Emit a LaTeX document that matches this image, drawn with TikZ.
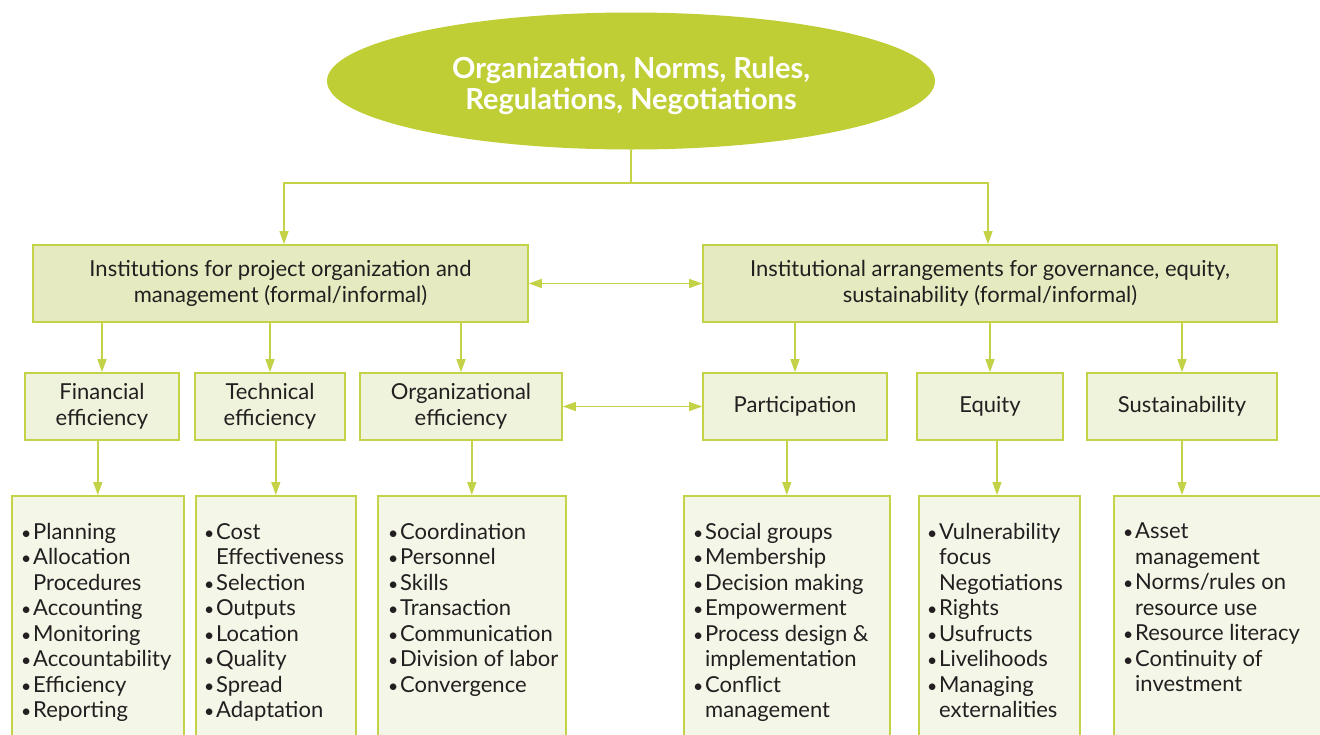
\documentclass[tikz,border=0pt]{standalone}
\usepackage{fontspec}
\setmainfont{Lato}
\usetikzlibrary{arrows.meta,shapes.geometric}

\definecolor{topFill}{RGB}{191,206,52}
\definecolor{limeLine}{RGB}{196,210,72}
\definecolor{headFill}{RGB}{230,234,192}
\definecolor{midFill}{RGB}{240,243,220}
\definecolor{listFill}{RGB}{244,246,231}
\definecolor{txt}{RGB}{35,31,32}

\newcommand{\itm}{\makebox[11pt][l]{\hspace{-1pt}\scalebox{0.8}{\textbullet}}}
\newcommand{\cnt}{\hspace*{11pt}}

\begin{document}
\begin{tikzpicture}[x=1pt,y=1pt,yscale=-1,xscale=1,
  headbox/.style={draw=limeLine,line width=1.6pt,fill=headFill,text=txt,align=center,
    minimum height=77pt,inner sep=0pt,font=\fontsize{22}{26}\selectfont},
  midbox/.style={draw=limeLine,line width=1.6pt,fill=midFill,text=txt,align=center,
    minimum height=67pt,inner sep=0pt,font=\fontsize{22}{25.5}\selectfont},
  listbox/.style={draw=limeLine,line width=1.6pt,fill=listFill,minimum height=262pt,
    anchor=north west,inner sep=0pt},
  listtext/.style={anchor=north west,align=left,inner sep=0pt,text=txt,
    font=\fontsize{22}{25.5}\selectfont},
  link/.style={draw=limeLine,line width=1.4pt},
  arr/.style={link,-{Triangle[length=13pt,width=9pt]}},
  dbl/.style={link,{Triangle[length=13pt,width=9pt]}-{Triangle[length=13pt,width=9pt]}}]
\useasboundingbox (0,0) rectangle (1320,734);
\clip (0,0) rectangle (1320,734);

%Shape: Ellipse
\node[ellipse,fill=topFill,minimum width=608pt,minimum height=137pt,inner sep=0pt] (top) at (631,81) {};
% Text Node
\node[text=white,align=center,inner sep=0pt,font=\fontsize{29}{31}\selectfont\bfseries] (toptext) at (631,86)
  {Organization, Norms, Rules,\\Regulations, Negotiations};

%Shape: Rectangle
\node[headbox,minimum width=495pt] (inst) at (280.5,283.5)
  {Institutions for project organization and\\management (formal/informal)};
%Shape: Rectangle
\node[headbox,minimum width=574pt] (gov) at (990,283.5)
  {Institutional arrangements for governance, equity,\\sustainability (formal/informal)};

%Shape: Rectangle
\node[midbox,minimum width=154pt] (finmid) at (102,406.5) {Financial\\efficiency};
\node[midbox,minimum width=150pt] (techmid) at (270,406.5) {Technical\\efficiency};
\node[midbox,minimum width=202pt] (orgmid) at (461,406.5) {Organizational\\efficiency};
\node[midbox,minimum width=184pt] (partmid) at (795,406.5) {Participation};
\node[midbox,minimum width=146pt] (eqmid) at (990,406.5) {Equity};
\node[midbox,minimum width=190pt] (sustmid) at (1182,406.5) {Sustainability};

%Shape: Rectangle
\node[listbox,minimum width=172pt] (finlist) at (11,495) {};
\node[listbox,minimum width=160pt] (techlist) at (195,495) {};
\node[listbox,minimum width=188pt] (orglist) at (377,495) {};
\node[listbox,minimum width=206pt] (partlist) at (683,495) {};
\node[listbox,minimum width=161pt] (eqlist) at (918,495) {};
\node[listbox,minimum width=230pt] (sustlist) at (1113,495) {};

% Text Node
\node[listtext] (fintext) at (22,523) {\itm Planning\\\itm Allocation\\\cnt Procedures\\\itm Accounting\\
  \itm Monitoring\\\itm Accountability\\\itm Efficiency\\\itm Reporting};
% Text Node
\node[listtext] (techtext) at (205,523) {\itm Cost\\\cnt Effectiveness\\\itm Selection\\\itm Outputs\\
  \itm Location\\\itm Quality\\\itm Spread\\\itm Adaptation};
% Text Node
\node[listtext] (orgtext) at (389,523) {\itm Coordination\\\itm Personnel\\\itm Skills\\\itm Transaction\\
  \itm Communication\\\itm Division of labor\\\itm Convergence};
% Text Node
\node[listtext] (parttext) at (694,523) {\itm Social groups\\\itm Membership\\\itm Decision making\\
  \itm Empowerment\\\itm Process design \&\\\cnt implementation\\\itm Conflict\\\cnt management};
% Text Node
\node[listtext] (eqtext) at (928,523) {\itm Vulnerability\\\cnt focus\\\cnt Negotiations\\\itm Rights\\
  \itm Usufructs\\\itm Livelihoods\\\itm Managing\\\cnt externalities};
% Text Node
\node[listtext] (susttext) at (1124,523) {\itm Asset\\\cnt management\\\itm Norms/rules on\\
  \cnt resource use\\\itm Resource literacy\\\itm Continuity of\\\cnt investment};

%Straight Lines
\draw[link] (top.south) -- (top.south |- 0,183) coordinate (fork);
\draw[arr] (fork) -| ([xshift=3.5pt]inst.north);
\draw[arr] (fork) -| ([xshift=-2pt]gov.north);
\draw[dbl] (inst.east) -- (gov.west);
\draw[dbl] (orgmid.east) -- (partmid.west);

%Straight Lines
\draw[arr] (finmid.north |- inst.south) -- (finmid.north);
\draw[arr] (techmid.north |- inst.south) -- (techmid.north);
\draw[arr] (orgmid.north |- inst.south) -- (orgmid.north);
\draw[arr] (partmid.north |- gov.south) -- (partmid.north);
\draw[arr] (eqmid.north |- gov.south) -- (eqmid.north);
\draw[arr] (sustmid.north |- gov.south) -- (sustmid.north);

%Straight Lines
\draw[arr] (finlist.north |- finmid.south) -- (finlist.north);
\draw[arr] (techlist.north |- techmid.south) -- (techlist.north);
\draw[arr] (orglist.north |- orgmid.south) -- (orglist.north);
\draw[arr] (partlist.north |- partmid.south) -- (partlist.north);
\draw[arr] ([xshift=7pt]eqmid.south) -- ([xshift=7pt]eqmid.south |- eqlist.north);
\draw[arr] (sustmid.south) -- (sustmid.south |- sustlist.north);
\end{tikzpicture}
\end{document}
